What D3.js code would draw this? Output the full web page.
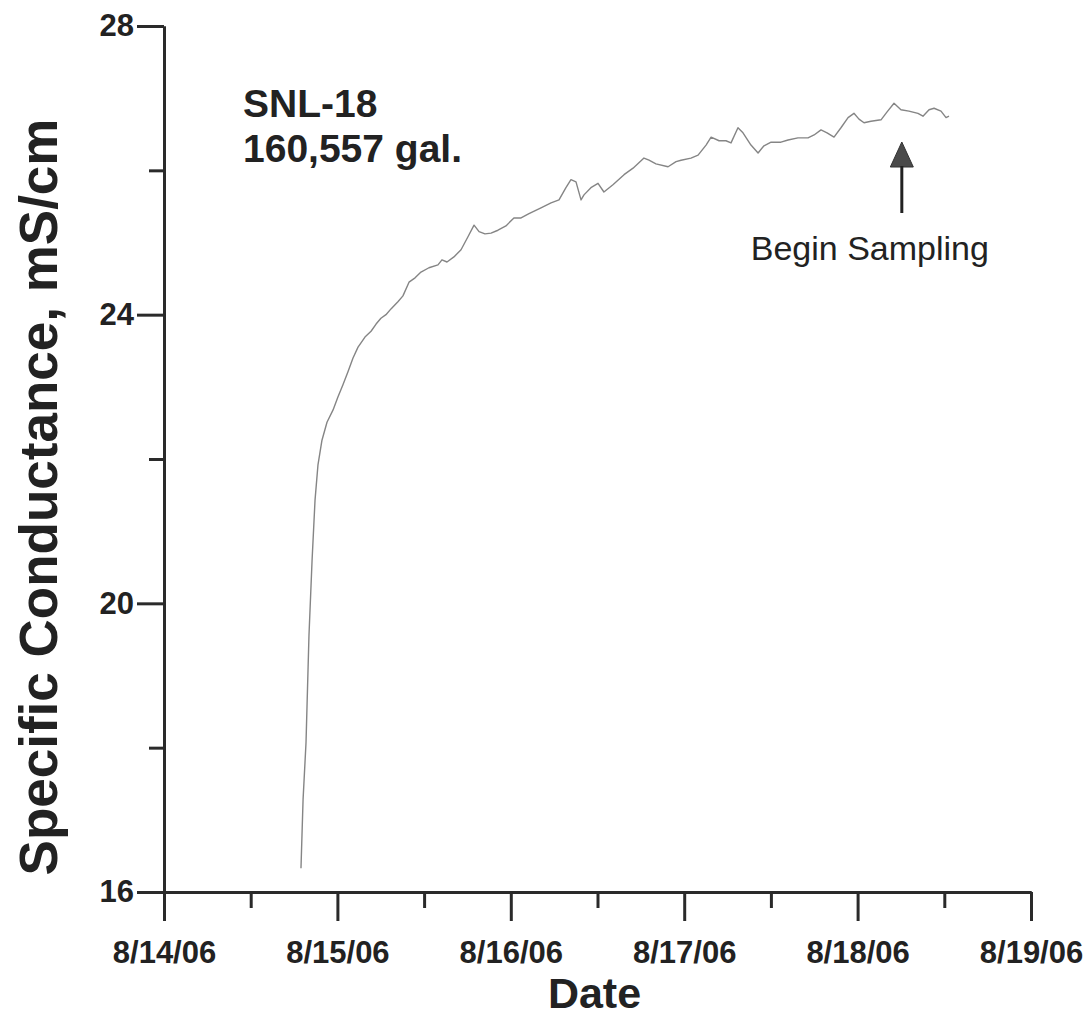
<!DOCTYPE html>
<html>
<head>
<meta charset="utf-8">
<script src="https://cdn.jsdelivr.net/npm/d3@7/dist/d3.min.js"></script>
<style>
  html, body { margin: 0; padding: 0; background: #fff; }
  svg { display: block; font-family: Arial, "Liberation Sans", sans-serif; }
</style>
</head>
<body>
<div id="chart"></div>
<script>
// SNL-18 specific conductance during pumping

// elapsed time in days since 8/14/06 00:00
const elapsedDays = [
  0.790, 0.802, 0.819, 0.836, 0.854, 0.871, 0.888, 0.911, 0.940, 0.975,
  1.003, 1.032, 1.061, 1.090, 1.119, 1.159, 1.194, 1.223, 1.251, 1.280,
  1.309, 1.349, 1.378, 1.413, 1.448, 1.482, 1.528, 1.580, 1.603, 1.632,
  1.672, 1.713, 1.753, 1.788, 1.817, 1.851, 1.886, 1.926, 1.972, 2.018,
  2.059, 2.105, 2.174, 2.232, 2.278, 2.318, 2.347, 2.376, 2.405, 2.422,
  2.462, 2.503, 2.537, 2.589, 2.653, 2.705, 2.768, 2.797, 2.837, 2.907,
  2.953, 2.982, 3.039, 3.080, 3.126, 3.155, 3.201, 3.241, 3.270, 3.310,
  3.339, 3.385, 3.426, 3.460, 3.501, 3.558, 3.599, 3.656, 3.714, 3.749,
  3.789, 3.824, 3.864, 3.904, 3.945, 3.979, 4.008, 4.037, 4.077, 4.135,
  4.170, 4.210, 4.250, 4.296, 4.348, 4.377, 4.412, 4.441, 4.481, 4.510,
  4.527
];

// specific conductance, mS/cm
const conductance = [
  16.33, 17.28, 18.07, 19.55, 20.60, 21.43, 21.92, 22.26, 22.51, 22.68,
  22.86, 23.03, 23.21, 23.40, 23.55, 23.69, 23.77, 23.87, 23.95, 24.00,
  24.08, 24.18, 24.26, 24.45, 24.51, 24.59, 24.65, 24.69, 24.76, 24.73,
  24.80, 24.90, 25.08, 25.24, 25.15, 25.12, 25.13, 25.17, 25.23, 25.34,
  25.34, 25.40, 25.48, 25.55, 25.59, 25.76, 25.87, 25.84, 25.59, 25.66,
  25.76, 25.82, 25.70, 25.80, 25.94, 26.03, 26.17, 26.14, 26.09, 26.05,
  26.12, 26.14, 26.17, 26.21, 26.35, 26.46, 26.41, 26.41, 26.38, 26.59,
  26.52, 26.35, 26.24, 26.34, 26.39, 26.39, 26.42, 26.45, 26.45, 26.49,
  26.56, 26.52, 26.46, 26.59, 26.73, 26.79, 26.71, 26.66, 26.68, 26.70,
  26.81, 26.93, 26.84, 26.82, 26.79, 26.75, 26.84, 26.86, 26.82, 26.73,
  26.75
];

const startDate = new Date(2006, 7, 14);
const endDate = new Date(2006, 7, 19);
const majorYTicks = [16, 20, 24, 28];
const minorYTicks = [18, 22, 26];
const wellName = "SNL-18";
const volumeLabel = "160,557 gal.";
const samplingDay = 4.255;   // Begin Sampling marker
const samplingLabel = "Begin Sampling";

const dayMs = 24 * 3600 * 1000;
const toDate = d => new Date(startDate.getTime() + d * dayMs);

const width = 1089, height = 1019;
const svg = d3.select('#chart').append('svg')
  .attr('width', width)
  .attr('height', height);

const x = d3.scaleTime().domain([startDate, endDate]).range([164, 1031]);
const y = d3.scaleLinear().domain([16, 28]).range([892, 26]);

const axisColor = '#2a2a2a';
const labelFont = 31;

const majorX = d3.timeDay.range(startDate, d3.timeDay.offset(endDate, 1));
const minorX = majorX.slice(0, -1).map(d => d3.timeHour.offset(d, 12));

// x axis: short minor ticks, long major ticks with labels
svg.append('g').attr('transform', `translate(0,${y(16)})`)
  .call(d3.axisBottom(x).tickValues(minorX).tickSize(16).tickSizeOuter(0).tickFormat(''));
svg.append('g').attr('transform', `translate(0,${y(16)})`)
  .call(d3.axisBottom(x).tickValues(majorX).tickSize(29).tickSizeOuter(0)
    .tickPadding(20).tickFormat(d3.timeFormat('%-m/%d/%y')));

// y axis
svg.append('g').attr('transform', `translate(${x(startDate)},0)`)
  .call(d3.axisLeft(y).tickValues(minorYTicks).tickSize(15).tickSizeOuter(0).tickFormat(''));
svg.append('g').attr('transform', `translate(${x(startDate)},0)`)
  .call(d3.axisLeft(y).tickValues(majorYTicks).tickSize(27).tickSizeOuter(0)
    .tickPadding(3).tickFormat(d3.format('d')));

svg.selectAll('.domain, .tick line')
  .attr('stroke', axisColor)
  .attr('stroke-width', 3);

svg.selectAll('.tick text')
  .attr('fill', '#222')
  .attr('font-family', 'Arial, "Liberation Sans", sans-serif')
  .attr('font-weight', 'bold')
  .attr('font-size', labelFont);

// axis titles
svg.append('text')
  .attr('x', x(startDate) + (x(endDate) - x(startDate)) / 2 - 3)
  .attr('y', 1008)
  .attr('text-anchor', 'middle')
  .attr('font-weight', 'bold')
  .attr('font-size', 43)
  .attr('fill', '#222')
  .text('Date');

svg.append('text')
  .attr('transform', `translate(57,497) rotate(-90)`)
  .attr('text-anchor', 'middle')
  .attr('font-weight', 'bold')
  .attr('font-size', 53)
  .attr('fill', '#222')
  .text('Specific Conductance, mS/cm');

// the data line
const points = elapsedDays.map((d, i) => ({ t: toDate(d), v: conductance[i] }));
svg.append('path')
  .datum(points)
  .attr('fill', 'none')
  .attr('stroke', '#858585')
  .attr('stroke-width', 1.4)
  .attr('stroke-linejoin', 'round')
  .attr('d', d3.line().x(d => x(d.t)).y(d => y(d.v)));

// well label
svg.append('text')
  .attr('x', 243).attr('y', 117)
  .attr('font-weight', 'bold').attr('font-size', 39).attr('fill', '#222')
  .text(wellName);
svg.append('text')
  .attr('x', 243).attr('y', 162)
  .attr('font-weight', 'bold').attr('font-size', 39).attr('fill', '#222')
  .text(volumeLabel);

// begin sampling arrow
const ax = x(toDate(samplingDay));
svg.append('path')
  .attr('d', `M${ax},142 L${ax - 11.5},167 L${ax + 11.5},167 Z`)
  .attr('fill', '#4a4a4a')
  .attr('stroke', '#333')
  .attr('stroke-width', 1);
svg.append('line')
  .attr('x1', ax).attr('x2', ax)
  .attr('y1', 166).attr('y2', 213)
  .attr('stroke', '#222').attr('stroke-width', 3);
svg.append('text')
  .attr('x', ax - 32).attr('y', 260)
  .attr('text-anchor', 'middle')
  .attr('font-size', 34).attr('fill', '#222')
  .text(samplingLabel);
</script>
</body>
</html>
